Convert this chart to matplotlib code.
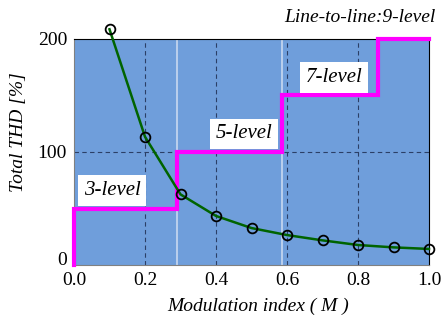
import numpy as np
import matplotlib
matplotlib.use("Agg")
import matplotlib.pyplot as plt

plt.rcParams['font.family'] = ['Liberation Serif', 'DejaVu Serif']

# data
m_index = [0.1, 0.2, 0.3, 0.4, 0.5, 0.6, 0.7, 0.8, 0.9, 1.0]
thd = [208.6, 113.5, 62.5, 43.4, 32.7, 26.5, 21.8, 17.7, 15.6, 14.2]

step_x = [0.0, 0.0, 0.289, 0.289, 0.586, 0.586, 0.855, 0.855, 1.0]
step_y = [0.0, 50, 50, 100, 100, 150, 150, 200, 200]

bounds = [0.289, 0.586]
level_labels = ["3-level", "5-level", "7-level"]
label_pos = [(0.107, 66), (0.48, 116), (0.732, 166)]

fig = plt.figure(figsize=(4.43, 3.21), dpi=100)
ax = fig.add_axes([74/443, 1-265/321, (429-74)/443, (265-39)/321])
ax.set_facecolor('#6f9edb')

ax.set_xlim(0, 1.0)
ax.set_ylim(0, 200)
ax.set_xticks([0.0, 0.2, 0.4, 0.6, 0.8, 1.0])
ax.set_xticklabels(["0.0", "0.2", "0.4", "0.6", "0.8", "1.0"])
ax.set_yticks([0, 100, 200])
ax.tick_params(length=0, labelsize=14, pad=5)
# the "0" label sits raised above the axis bottom
ax.get_yticklabels()[0].set_va('baseline')

for gx in [0.2, 0.4, 0.6, 0.8]:
    ax.axvline(gx, color='#2b3f66', lw=0.8, ls=(0, (4, 3)), zorder=1)
ax.axhline(100, color='#2b3f66', lw=0.8, ls=(0, (4, 3)), zorder=1)
for b in bounds:
    ax.axvline(b, color='#c8d8f0', lw=1.2, zorder=1)

ax.plot(step_x, step_y, color='#ff00ff', lw=3, zorder=3, clip_on=False,
        solid_joinstyle='miter')
ax.plot(m_index, thd, color='#006400', lw=1.8, marker='o', ms=7,
        mfc='none', mec='black', mew=1.3, zorder=4, clip_on=False)

for lab, (lx, ly) in zip(level_labels, label_pos):
    ax.text(lx, ly, lab, fontsize=15, style='italic', ha='center', va='center',
            bbox=dict(facecolor='white', edgecolor='none', pad=4), zorder=5)

ax.text(1.017, 1.097, "Line-to-line:9-level", transform=ax.transAxes,
        fontsize=14, style='italic', ha='right', va='center')

ax.set_xlabel("Modulation index ( M )", fontsize=14, style='italic')
ax.set_ylabel("Total THD [%]", fontsize=14, style='italic')
ax.xaxis.set_label_coords(0.52, -0.145)
ax.yaxis.set_label_coords(-0.132, 0.59)

for s in ['left', 'bottom']:
    ax.spines[s].set_color('#808080')
for s in ['top', 'right']:
    ax.spines[s].set_color('black')

fig.savefig("out.png", dpi=100)
